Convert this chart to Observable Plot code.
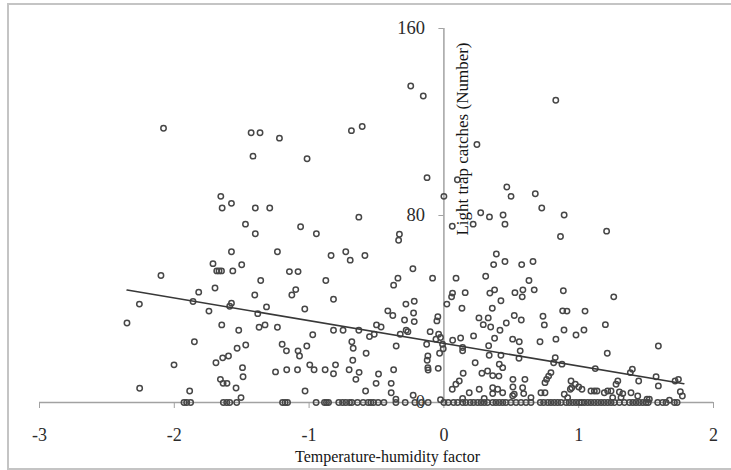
<!DOCTYPE html>
<html>
<head>
<meta charset="utf-8">
<script src="https://cdn.jsdelivr.net/npm/d3@7"></script>
<script src="https://cdn.jsdelivr.net/npm/@observablehq/plot@0.6"></script>
<style>
  html, body { margin: 0; padding: 0; background: #fff; }
  #wrap { position: relative; width: 731px; height: 470px; overflow: hidden; }
  #wrap .border {
    position: absolute; left: 7px; top: 3px; width: 780px; height: 467px;
    border: 2px solid #c4c4c4; box-sizing: border-box; pointer-events: none;
  }
  #wrap svg { position: absolute; left: 0; top: 0; }
</style>
</head>
<body>
<div id="wrap"><div class="border"></div></div>
<script>
// Light trap catches against the temperature-humidity factor.
const xTitle = "Temperature-humidity factor";
const yTitle = "Light trap catches (Number)";
const xTicks = [-3, -2, -1, 0, 1, 2];
const yTicks = [0, 80, 160];

// Nights with catches: [temperature-humidity factor, catches]
const highCatches = [
  [-2.08,117.3],[-1.43,115.4],[-1.364,115.4],[-1.22,113.1],[-1.416,105.4],[-1.015,104.3],
  [-0.686,116.3],[-0.606,118.1],[-0.246,135.4],[-0.153,131.1],[0.83,129.3],[0.245,110.4],
  [-0.125,96.2],[0.0,88.2],[0.10,95.3],[0.467,92.2],[0.498,88.2],[0.678,89.3],[0.726,83.2],
  [0.892,80.2],[0.865,71.0],[1.207,73.3],[0.273,81.2],[0.338,79.4],[0.439,80.2],[0.453,76.3],
  [0.217,76.3],[0.062,75.4],[-1.655,88.2],[-1.576,85.2],[-1.645,83.2],[-1.399,83.2],
  [-1.292,83.2],[-1.472,76.3],[-1.399,72.2],[-1.063,75.2],[-0.946,72.2],[-0.631,79.3],
  [-0.33,72.0],[-0.336,69.4]
];
const lowFactorCatches = [
  [-1.576,64.5],[-1.713,59.4],[-1.685,56.3],[-1.668,56.3],[-1.650,56.3],[-1.566,56.3],
  [-2.099,54.3],[-1.819,47.2],[-1.698,49.0],[-2.259,42.1],[-1.861,43.2],[-1.576,42.5],
  [-1.589,41.2],[-1.743,39.1],[-2.351,34.0],[-1.648,33.2],[-1.522,30.9],[-1.851,26.0],
  [-1.534,23.2],[-2.002,16.1],[-1.691,17.0],[-1.641,19.1],[-1.598,19.9],[-1.658,9.9],
  [-1.638,8.2],[-1.609,8.2],[-2.257,6.1],[-1.886,4.9],[-1.542,6.2],
  [-1.235,64.5],[-1.500,58.9],[-0.837,62.9],[-0.728,64.5],[-0.695,60.9],[-1.146,56.0],
  [-1.082,56.0],[-1.359,52.2],[-0.876,52.2],[-1.099,48.3],[-1.128,46.0],[-1.403,46.0],
  [-0.819,44.2],[-1.316,40.9],[-1.032,40.0],[-1.381,38.0],[-1.371,32.2],[-1.327,33.2],
  [-1.235,32.2],[-0.819,30.9],[-0.748,30.9],[-0.973,29.0],[-1.470,24.6],[-1.200,24.9],
  [-1.168,22.1],[-1.082,22.1],[-1.071,19.9],[-1.017,24.2],[-0.995,16.1],[-0.963,14.0],
  [-0.804,16.1],[-0.819,12.3],[-0.881,14.0],[-0.703,14.0],[-1.494,14.9],[-1.490,11.0],
  [-1.249,13.1],[-1.166,14.0],[-1.086,14.0],[-1.505,2.1],[-1.030,4.9]
];
const midFactorCatches = [
  [-0.586,62.9],[-0.230,57.2],[-0.084,53.2],[-0.341,53.2],[-0.373,50.2],[0.09,53.2],
  [-0.282,42.1],[-0.220,43.3],[-0.416,39.2],[-0.379,37.2],[-0.225,38.3],[-0.292,35.3],
  [-0.220,34.6],[-0.045,36.7],[-0.052,34.9],[0.022,42.1],[0.057,45.2],[0.064,46.8],
  [-0.500,33.2],[-0.466,32.3],[-0.517,29.2],[-0.552,28.2],[-0.631,30.9],[-0.280,30.9],
  [-0.267,30.3],[-0.324,29.2],[-0.102,30.3],[-0.039,29.2],[-0.025,27.8],[-0.059,27.1],
  [-0.010,24.9],[-0.128,24.9],[0.065,26.6],[-0.683,26.0],[-0.673,23.2],[-0.354,24.2],
  [-0.577,21.1],[-0.005,23.0],[-0.032,21.1],[-0.676,18.1],[-0.119,19.9],[-0.124,18.1],
  [-0.119,14.9],[-0.117,13.9],[-0.629,12.9],[-0.485,12.2],[-0.373,14.0],[-0.653,9.9],
  [-0.503,8.2],[-0.391,8.2],[-0.042,14.6],[-0.391,4.2],[-0.581,4.9],[-0.356,1.4],
  [0.062,5.7],[-0.025,1.2],[-0.228,3.1]
];
const highFactorCatches = [
  [0.389,63.5],[0.369,59.0],[0.453,60.3],[0.577,59.0],[0.661,60.3],[0.310,54.0],[0.631,52.2],
  [0.158,47.0],[0.341,46.8],[0.376,48.2],[0.527,47.0],[0.586,48.2],[0.581,45.2],[0.670,48.2],
  [0.423,43.5],[0.134,40.3],[0.359,40.3],[0.522,37.2],[0.735,36.9],[0.881,39.2],[0.260,36.2],
  [0.329,36.2],[0.574,35.3],[0.292,33.3],[0.347,32.3],[0.463,34.0],[0.745,33.2],[0.416,30.9],
  [0.220,28.5],[0.376,27.5],[0.510,27.1],[0.559,26.0],[0.713,26.0],[0.831,27.1],[0.124,27.6],
  [0.139,23.5],[0.139,22.1],[0.332,24.3],[0.566,22.1],[0.557,18.9],[0.423,20.2],[0.336,20.2],
  [0.826,19.2],[0.814,17.0],[0.232,17.0],[0.411,16.4],[0.436,14.9],[0.143,12.5],[0.282,12.5],
  [0.324,13.5],[0.362,11.5],[0.408,11.3],[0.512,9.9],[0.601,9.9],[0.794,12.8],[0.777,11.3],
  [0.762,9.9],[0.750,8.5],[0.114,9.2],[0.089,7.8],[0.262,5.7],[0.362,6.3],[0.399,5.7],
  [0.362,3.8],[0.436,4.2],[0.512,6.6],[0.584,6.3],[0.592,3.8],[0.188,4.2],[0.720,4.2],
  [0.750,4.2],[0.510,2.9],[0.522,3.5],[0.646,2.1],[0.139,1.7],[0.299,1.7],
  [0.886,47.8],[1.260,45.2],[0.913,39.1],[1.047,39.1],[1.198,33.3],[0.891,31.0],[1.039,31.0],
  [0.980,28.9],[1.591,24.2],[1.212,21.1],[0.876,16.4],[1.123,14.5],[1.398,14.2],[1.383,12.8],
  [1.445,9.2],[1.574,11.0],[1.591,7.1],[1.715,9.2],[1.740,9.9],[1.754,4.6],[1.769,2.8],
  [0.943,9.2],[0.975,7.8],[1.000,6.6],[1.024,5.7],[0.938,5.7],[1.091,4.9],[1.116,4.9],
  [1.136,4.9],[1.190,4.2],[1.215,4.9],[1.240,4.9],[1.277,7.8],[1.290,9.2],[1.302,4.5],
  [1.327,3.8],[1.314,2.1],[1.388,4.2],[1.438,2.8],[0.893,3.5],[0.918,2.1],[1.252,2.1],
  [1.507,1.4],[1.524,1.4],[1.673,1.0],[0.948,6.3]
];

// Nights with no catch (0 insects): factor values only
const zeroCatchFactors = [
  -1.928,-1.908,-1.879,-1.636,-1.611,-1.589,-1.537,
  -1.197,-1.178,-1.160,-0.948,-0.886,-0.871,-0.856,-0.780,-0.752,-0.728,-0.700,
  -0.683,-0.641,-0.599,-0.562,-0.542,-0.522,-0.488,-0.445,-0.356,-0.287,-0.215,-0.166,
  -0.117,0.0,0.032,
  0.072,0.102,0.139,0.163,0.195,0.220,0.250,0.275,0.299,0.324,0.362,0.386,0.411,0.436,
  0.460,0.497,0.535,0.572,0.609,0.646,0.715,0.740,0.770,0.794,0.819,0.844,0.869,
  0.906,0.930,0.955,0.980,1.004,1.022,1.042,1.067,1.091,1.116,1.141,1.166,1.190,1.215,
  1.240,1.265,1.302,1.339,1.376,1.401,1.425,1.450,1.475,1.499,1.516,1.586,1.623,1.648,
  1.710,1.730
];

// Least-squares trend line: catches = intercept + slope * factor
const fitIntercept = 25.3;
const fitSlope = -9.7;
const fitRange = [-2.35, 1.78];

const observations = [
  ...highCatches, ...lowFactorCatches, ...midFactorCatches, ...highFactorCatches,
  ...zeroCatchFactors.map(f => [f, 0])
].map(([factor, catches]) => ({factor, catches}));

const trend = fitRange.map(factor => ({factor, catches: fitIntercept + fitSlope * factor}));

const axisGray = "#a2a2a2";
const serif = "'Liberation Serif', 'Times New Roman', serif";

const chart = Plot.plot({
  width: 731,
  height: 470,
  marginLeft: 39,
  marginRight: 18,
  marginTop: 28,
  marginBottom: 68,
  style: {fontFamily: serif, background: "transparent", color: "#2b2b2b"},
  x: {domain: [-3, 2]},
  y: {domain: [0, 160]},
  marks: [
    Plot.ruleY([0], {stroke: axisGray, strokeWidth: 1.5}),
    Plot.ruleX([0], {y1: 0, y2: 160, stroke: axisGray, strokeWidth: 1.5}),
    Plot.axisX({
      ticks: xTicks, tickFormat: d => String(d), tickSize: 6, tickPadding: 20,
      stroke: axisGray, fill: "#2b2b2b", fontSize: 18, fontFamily: serif, label: null
    }),
    Plot.axisY({
      x: 0, ticks: yTicks, tickFormat: d => String(d), tickSize: 5, tickPadding: 14,
      stroke: axisGray, fill: "#2b2b2b", fontSize: 18.5, fontFamily: serif, label: null
    }),
    Plot.dot(observations, {
      x: "factor", y: "catches", r: 2.7, fill: "none", stroke: "#474747", strokeWidth: 1.5
    }),
    Plot.line(trend, {x: "factor", y: "catches", stroke: "#383838", strokeWidth: 1.6}),
    Plot.text([yTitle], {
      x: 0, frameAnchor: "top", rotate: -90, textAnchor: "end", lineAnchor: "middle",
      dx: 18.5, dy: 14, fontSize: 17, fontFamily: serif, fill: "#151515"
    }),
    Plot.text([xTitle], {
      frameAnchor: "bottom", lineAnchor: "middle", dx: 11, dy: 54,
      fontSize: 16, fontFamily: serif, fill: "#151515"
    })
  ]
});

document.getElementById("wrap").appendChild(chart);
</script>
</body>
</html>
